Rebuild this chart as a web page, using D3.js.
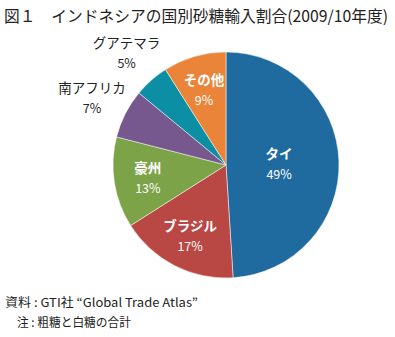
<!DOCTYPE html>
<html>
<head>
<meta charset="utf-8">
<script src="https://cdn.jsdelivr.net/npm/d3@7"></script>
<style>
  body { margin: 0; background: #fff; }
  svg { font-family: "Noto Sans CJK JP", "Noto Sans", sans-serif; }
</style>
</head>
<body>
<div id="chart"></div>
<script>
// data
const countries = ['タイ', 'ブラジル', '豪州', '南アフリカ', 'グアテマラ', 'その他'];
const shares = [49, 17, 13, 7, 5, 9];
const colors = ['#1f6ba0', '#b94743', '#7ca348', '#76588e', '#0c8ea4', '#ea8438'];
const outside = ['南アフリカ', 'グアテマラ'];

const width = 395, height = 337;
const cx = 226, cy = 165, r = 113;

const svg = d3.select('#chart').append('svg')
    .attr('width', width)
    .attr('height', height);

svg.append('text')
    .attr('x', 4)
    .attr('y', 22)
    .attr('font-size', 16)
    .attr('textLength', 384)
    .attr('lengthAdjust', 'spacingAndGlyphs')
    .attr('fill', '#222')
    .text('図１　インドネシアの国別砂糖輸入割合(2009/10年度)');

const pie = d3.pie().sort(null).value(d => d.v);
const arcs = pie(countries.map((c, i) => ({name: c, v: shares[i], color: colors[i]})));

const arc = d3.arc().innerRadius(0).outerRadius(r);

const g = svg.append('g').attr('transform', `translate(${cx},${cy})`);

g.selectAll('path')
    .data(arcs)
    .enter().append('path')
    .attr('d', arc)
    .attr('fill', d => d.data.color)
    .attr('stroke', '#fff')
    .attr('stroke-width', 0.5);

// label radius: inside labels near 0.7r, big slice closer in, small slices outside
function labelPos(d) {
  let k = 0.7;
  if (d.index === 0) k = 0.47;
  if (outside.includes(d.data.name)) k = 1.33;
  const a = (d.startAngle + d.endAngle) / 2;
  return [Math.sin(a) * r * k, -Math.cos(a) * r * k];
}

const labels = g.selectAll('g.lbl')
    .data(arcs)
    .enter().append('g')
    .attr('class', 'lbl')
    .attr('transform', d => `translate(${labelPos(d)})`)
    .attr('text-anchor', 'middle')
    .attr('fill', d => outside.includes(d.data.name) ? '#222' : '#fff');

labels.append('text')
    .attr('y', -4)
    .attr('font-size', 13.5)
    .attr('font-weight', d => outside.includes(d.data.name) ? 'normal' : 'bold')
    .text(d => d.data.name);

labels.append('text')
    .attr('y', 16)
    .attr('font-size', 12.5)
    .text(d => d.data.v + '%');

svg.append('text')
    .attr('x', 5)
    .attr('y', 307)
    .attr('font-size', 12)
    .attr('textLength', 193)
    .attr('lengthAdjust', 'spacingAndGlyphs')
    .attr('fill', '#222')
    .text('資料 : GTI社 “Global Trade Atlas”');

svg.append('text')
    .attr('x', 17)
    .attr('y', 327)
    .attr('font-size', 12)
    .attr('textLength', 114)
    .attr('lengthAdjust', 'spacingAndGlyphs')
    .attr('fill', '#222')
    .text('注 : 粗糖と白糖の合計');
</script>
</body>
</html>
